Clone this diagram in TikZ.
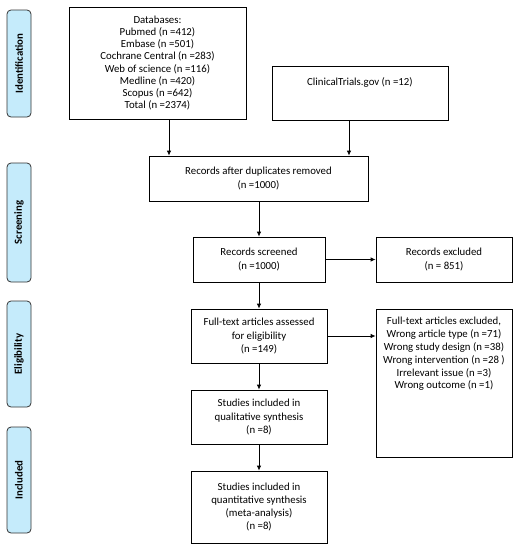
\documentclass[tikz,border=0pt]{standalone}
\usepackage{fontspec}
\setmainfont{Carlito}
\usetikzlibrary{arrows.meta}
\definecolor{sideblue}{HTML}{C5EBFB}
\begin{document}
\begin{tikzpicture}[x=1pt,y=-1pt,
  box/.style={draw=black,line width=0.8pt,inner sep=0pt,align=center,font=\fontsize{10.8}{13.3}\selectfont},
  sidebox/.style={draw=black!80,fill=sideblue,rounded corners=4pt,line width=0.8pt,minimum width=24pt,inner sep=0pt},
  sidetext/.style={rotate=90,font=\bfseries\fontsize{10.8}{12}\selectfont},
  arr/.style={-{Latex[length=5pt,width=4.5pt]},line width=0.8pt}]
\useasboundingbox (0,0) rectangle (516,550);
% side labels
\node[sidebox,minimum height=107pt] (sid) at (19,63.5) {};
\node[sidetext] (sidt) at (sid.center) {Identification};
\node[sidebox,minimum height=119pt] (ssc) at (19,222.5) {};
\node[sidetext] (ssct) at (ssc.center) {Screening};
\node[sidebox,minimum height=106pt] (sel) at (19,354) {};
\node[sidetext] (selt) at (sel.center) {Eligibility};
\node[sidebox,minimum height=106pt] (sin) at (19,480) {};
\node[sidetext] (sint) at (sin.center) {Included};
% boxes
\node[box,minimum width=177pt,minimum height=112pt,font=\fontsize{10.8}{12.2}\selectfont] (db) at (157.5,63) {Databases:\\Pubmed (n =412)\\Embase (n =501)\\Cochrane Central (n =283)\\Web of science (n =116)\\Medline (n =420)\\Scopus (n =642)\\Total (n =2374)};
\node[box,minimum width=176pt,minimum height=54pt] (ct) at (360,93) {};
\node[box,draw=none,anchor=base] (ctt) at (360,85.5) {ClinicalTrials.gov (n =12)};
\node[box,minimum width=219pt,minimum height=45pt] (dup) at (258.5,178.5) {Records after duplicates removed\\(n =1000)};
\node[box,minimum width=132pt,minimum height=45pt] (scr) at (259,259.5) {Records screened\\(n =1000)};
\node[box,minimum width=136pt,minimum height=45pt] (exc) at (444,259.5) {Records excluded\\(n = 851)};
\node[box,minimum width=136pt,minimum height=54pt] (ft) at (259,336) {Full-text articles assessed\\for eligibility\\(n =149)};
\node[box,minimum width=136pt,minimum height=148pt] (ftx) at (444,383) {};
\node[box,draw=none,anchor=north,font=\fontsize{10.8}{12.8}\selectfont] (ftxt) at (444,317) {Full-text articles excluded,\\Wrong article type (n =71)\\Wrong study design (n =38)\\Wrong intervention (n =28 )\\Irrelevant issue (n =3)\\Wrong outcome (n =1)};
\node[box,minimum width=136pt,minimum height=54pt] (qual) at (259,417) {Studies included in\\qualitative synthesis\\(n =8)};
\node[box,minimum width=136pt,minimum height=72pt] (quan) at (259,507) {Studies included in\\quantitative synthesis\\(meta-analysis)\\(n =8)};
% arrows
\coordinate (xa) at (169,0);
\coordinate (xb) at (349,0);
\draw[arr] (db.south -| xa) -- (dup.north -| xa);
\draw[arr] (ct.south -| xb) -- (dup.north -| xb);
\draw[arr] (dup.south -| scr.north) -- (scr.north);
\draw[arr] (scr.east) -- (exc.west);
\draw[arr] (scr.south) -- (ft.north);
\coordinate (ya) at (0,336);
\draw[arr] (ft.east |- ya) -- (ftx.west |- ya);
\draw[arr] (ft.south) -- (qual.north);
\draw[arr] (qual.south) -- (quan.north);
\end{tikzpicture}
\end{document}
